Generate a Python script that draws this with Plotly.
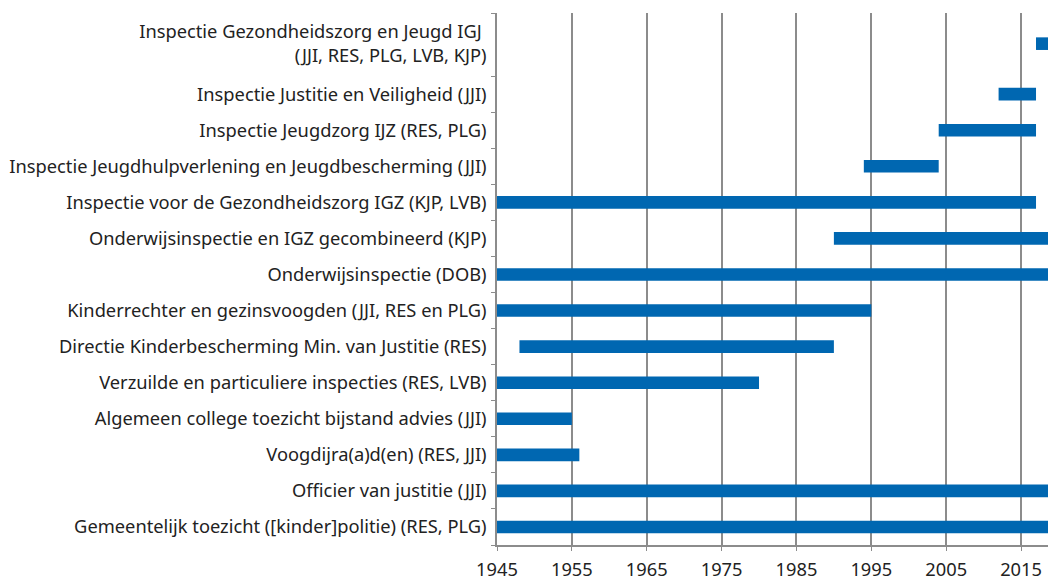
import plotly.graph_objects as go

categories = [
    "Gemeentelijk toezicht ([kinder]politie) (RES, PLG)",
    "Officier van justitie (JJI)",
    "Voogdijra(a)d(en) (RES, JJI)",
    "Algemeen college toezicht bijstand advies (JJI)",
    "Verzuilde en particuliere inspecties (RES, LVB)",
    "Directie Kinderbescherming Min. van Justitie (RES)",
    "Kinderrechter en gezinsvoogden (JJI, RES en PLG)",
    "Onderwijsinspectie (DOB)",
    "Onderwijsinspectie en IGZ gecombineerd (KJP)",
    "Inspectie voor de Gezondheidszorg IGZ (KJP, LVB)",
    "Inspectie Jeugdhulpverlening en Jeugdbescherming (JJI)",
    "Inspectie Jeugdzorg IJZ (RES, PLG)",
    "Inspectie Justitie en Veiligheid (JJI)",
    "Inspectie Gezondheidszorg en Jeugd IGJ <br>(JJI, RES, PLG, LVB, KJP)",
]
start_year = [1945, 1945, 1945, 1945, 1945, 1948, 1945, 1945, 1990, 1945, 1994, 2004, 2012, 2017]
end_year = [2019, 2019, 1956, 1955, 1980, 1990, 1995, 2019, 2019, 2017, 2004, 2017, 2017, 2019]
tick_years = [1945, 1955, 1965, 1975, 1985, 1995, 2005, 2015]

# row positions: the top (two-line) row has a taller band in the reference
row_pos = [0, 1, 2, 3, 4, 5, 6, 7, 8, 9, 10, 11, 12, 13.4]
row_bounds = [-0.5, 0.5, 1.5, 2.5, 3.5, 4.5, 5.5, 6.5, 7.5, 8.5, 9.5, 10.5, 11.5, 12.5, 14.25]

durations = [e - s for s, e in zip(start_year, end_year)]

fig = go.Figure(
    go.Bar(
        y=row_pos,
        x=durations,
        base=start_year,
        orientation="h",
        width=0.35,
        marker=dict(color="#0067b1", line=dict(width=0)),
        hoverinfo="skip",
    )
)

FONT = "Noto Sans"
FS = 18.3
fig.update_layout(
    width=1048,
    height=576,
    margin=dict(l=497, r=0, t=13, b=31),
    paper_bgcolor="white",
    plot_bgcolor="white",
    showlegend=False,
    font=dict(family=FONT, size=FS, color="#222222"),
)
fig.update_xaxes(
    range=[1945, 2018.6],
    tickvals=tick_years,
    ticktext=[str(t) for t in tick_years],
    showgrid=True,
    gridcolor="#8c8c8c",
    gridwidth=1.5,
    showline=True,
    linecolor="#8c8c8c",
    linewidth=1.5,
    ticks="outside",
    ticklen=4,
    tickcolor="#8c8c8c",
    zeroline=False,
    automargin=False,
    ticklabelstandoff=3,
    tickfont=dict(family=FONT, size=FS, color="#222222"),
)
fig.update_yaxes(
    range=[row_bounds[0], row_bounds[-1]],
    tickvals=row_pos,
    ticktext=categories,
    ticks="",
    showgrid=False,
    zeroline=False,
    showline=True,
    linecolor="#8c8c8c",
    linewidth=1.5,
    automargin=False,
    ticklabelstandoff=5,
    tickfont=dict(family=FONT, size=FS, color="#222222"),
    minor=dict(tickvals=row_bounds, ticks="outside", ticklen=4, tickcolor="#8c8c8c", showgrid=False),
)

fig.write_html(
    "out.html",
    config={"displayModeBar": False},
    post_script="document.body.style.margin='0';document.body.style.overflow='hidden';",
)
